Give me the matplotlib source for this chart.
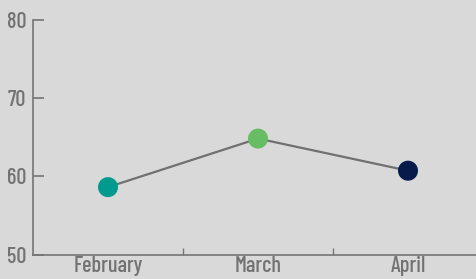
import matplotlib.pyplot as plt

months = ['February', 'March', 'April']
values = [58.6, 64.8, 60.7]
point_colors = ['#009a8e', '#66bd63', '#071b4b']
y_ticks = [50, 60, 70, 80]

plt.rcParams['font.family'] = ['Barlow Condensed', 'DejaVu Sans']

bg = '#d9d9d9'
grey = '#757575'
text_grey = '#727272'

fig = plt.figure(figsize=(4.77, 2.79), dpi=100, facecolor=bg)
ax = fig.add_axes([33 / 477, 1 - 254.5 / 279, 450 / 477, (254.5 - 19.5) / 279])
ax.set_facecolor(bg)

x = range(len(months))
ax.plot(x, values, color='#707070', linewidth=1.6, zorder=2)
ax.scatter(x, values, c=point_colors, s=20 ** 2 * 0.72 ** 2, zorder=3, edgecolors='none')

ax.set_xlim(-0.5, 2.5)
ax.set_ylim(50, 80)
ax.set_yticks(y_ticks)
ax.set_xticks(list(x))
ax.set_xticklabels(months)
ax.set_xticks([0.5, 1.5], minor=True)

for side in ['top', 'right']:
    ax.spines[side].set_visible(False)
for side in ['left', 'bottom']:
    ax.spines[side].set_color(grey)
    ax.spines[side].set_linewidth(1.2)

ax.tick_params(axis='y', direction='in', length=8, width=1.2, color=grey,
               labelcolor=text_grey, labelsize=16, pad=5)
ax.tick_params(axis='x', which='major', length=0, labelcolor=text_grey, labelsize=16, pad=1)
ax.tick_params(axis='x', which='minor', direction='in', length=5, width=1, color=grey)
for lab in ax.get_xticklabels() + ax.get_yticklabels():
    lab.set_fontweight(500)

fig.savefig('out.png', dpi=100, facecolor=bg)
